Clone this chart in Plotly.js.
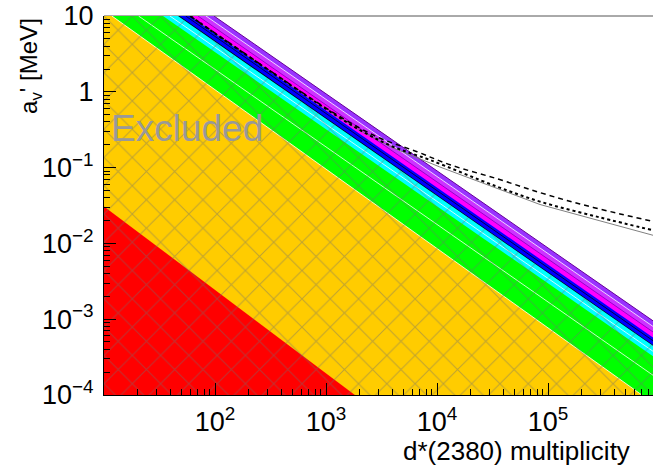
<!DOCTYPE html>
<html>
<head>
<meta charset="utf-8">
<script src="https://cdn.plot.ly/plotly-3.0.1.min.js"></script>
<style>
html,body{margin:0;padding:0;overflow:hidden;background:#fff;}
#chart{width:653px;height:468px;}
</style>
</head>
<body>
<div id="chart"></div>
<script>
// ---- axis frame (data units) ----
const X_MIN = 10, X_MAX = 883000;
const Y_MIN = 1e-4, Y_MAX = 10;

// ---- band boundaries: [x at entry, x at exit], [y at entry, y at exit] ----
const redX = [10, 1820];            const redY = [0.0307, 1e-4];
const orangeX = [11.8, 700000];     const orangeY = [10, 1e-4];
const greenMidX = [20.5, 883000];   const greenMidY = [10, 1.82e-4];
const greenTopX = [34.0, 883000];   const greenTopY = [10, 3.24e-4];
const cyanMidX = [39.3, 883000];    const cyanMidY = [10, 3.77e-4];
const cyanTopX = [46.5, 883000];    const cyanTopY = [10, 4.46e-4];
const blackTopX = [47.8, 883000];   const blackTopY = [10, 4.57e-4];
const blueMidX = [54.5, 883000];    const blueMidY = [10, 5.2e-4];
const blueTopX = [59.6, 883000];    const blueTopY = [10, 5.73e-4];
const magentaTopX = [70.3, 883000]; const magentaTopY = [10, 6.78e-4];
const purpleTopX = [83.0, 883000];  const purpleTopY = [10, 8.02e-4];
const violetTopX = [98.0, 883000];  const violetTopY = [10, 9.51e-4];

// ---- limit curves ----
const dashedX = [59.6, 100, 316, 1000, 2000, 3160, 6610, 13100, 34700, 84700, 194000, 446000, 883000];
const dashedY = [10, 5.96, 1.88, 0.61, 0.335, 0.24, 0.162, 0.109, 0.0713, 0.0468, 0.0331, 0.0245, 0.0195];
const dottedX = [60, 100, 316, 1000, 2000, 3980, 8650, 34700, 84700, 294000, 883000];
const dottedY = [10, 5.89, 1.86, 0.596, 0.316, 0.19, 0.126, 0.0561, 0.0356, 0.022, 0.0149];
const grayX = [60, 100, 316, 1000, 2000, 3980, 10600, 84700, 883000];
const grayY = [10, 5.89, 1.86, 0.59, 0.31, 0.183, 0.102, 0.0326, 0.0128];

// ---- ticks ----
const xTickVals = [100, 1000, 10000, 100000];
const xTickText = ['10<sup>2</sup>', '10<sup>3</sup>', '10<sup>4</sup>', '10<sup>5</sup>'];
const yTickVals = [1e-4, 1e-3, 1e-2, 1e-1, 1, 10];
const yTickText = ['10<sup>−4</sup>', '10<sup>−3</sup>', '10<sup>−2</sup>', '10<sup>−1</sup>', '1', '10'];

function minorTicks(lo, hi) {
  const out = [];
  for (let e = lo; e < hi; e++) for (let m = 2; m <= 9; m++) out.push(m * Math.pow(10, e));
  return out;
}

// region below a boundary, closed along the frame
function below(bx, by) {
  const xs = [], ys = [];
  if (by[0] >= Y_MAX) { xs.push(X_MIN, bx[0]); ys.push(Y_MAX, Y_MAX); }
  else { xs.push(X_MIN, bx[0]); ys.push(by[0], by[0]); }
  xs.push(bx[1]); ys.push(by[1]);
  if (bx[1] < X_MAX) { xs.push(X_MIN); ys.push(Y_MIN); }
  else { xs.push(X_MAX, X_MIN); ys.push(Y_MIN, Y_MIN); }
  return {x: xs, y: ys};
}

function band(bx, by, color) {
  const p = below(bx, by);
  return {x: p.x, y: p.y, type: 'scatter', mode: 'lines', fill: 'toself',
    fillcolor: color, line: {width: 0}, hoverinfo: 'skip', showlegend: false};
}
function edge(bx, by, color, w) {
  return {x: bx, y: by, type: 'scatter', mode: 'lines',
    line: {color: color, width: w}, hoverinfo: 'skip', showlegend: false};
}

const traces = [
  band(violetTopX, violetTopY, '#9933ff'),
  band(purpleTopX, purpleTopY, '#cc33ff'),
  band(magentaTopX, magentaTopY, '#ff00ff'),
  band(blueTopX, blueTopY, '#0000ff'),
  band(blackTopX, blackTopY, '#000000'),
  band(cyanTopX, cyanTopY, '#00ffff'),
  band(greenTopX, greenTopY, '#00ff00'),
  band(orangeX, orangeY, '#ffcc00'),
  band(redX, redY, '#ff0000'),
  edge(violetTopX, violetTopY, '#660099', 1),
  edge(purpleTopX, purpleTopY, '#ffffff', 0.8),
  edge(magentaTopX, magentaTopY, '#9900cc', 1),
  edge(blueMidX, blueMidY, '#000033', 0.9),
  edge(cyanMidX, cyanMidY, 'rgba(220,255,255,0.9)', 1),
  edge(greenMidX, greenMidY, 'rgba(220,255,220,0.9)', 1),
  edge(orangeX, orangeY, 'rgba(255,255,220,0.9)', 1),
];

// hatched "excluded" overlay
const hatch = below(cyanTopX, cyanTopY);
traces.push({x: hatch.x, y: hatch.y, type: 'scatter', mode: 'lines', fill: 'toself',
  fillcolor: 'rgba(0,0,0,0)', line: {width: 0}, hoverinfo: 'skip', showlegend: false,
  fillpattern: {shape: 'x', size: 20, solidity: 0.1, fgcolor: 'rgba(110,110,110,0.9)',
    bgcolor: 'rgba(0,0,0,0)', fillmode: 'overlay'}});

traces.push({x: grayX, y: grayY, type: 'scatter', mode: 'lines',
  line: {color: '#808080', width: 1}, hoverinfo: 'skip', showlegend: false});
traces.push({x: dottedX, y: dottedY, type: 'scatter', mode: 'lines', line: {color: '#000', width: 2, dash: 'dot', shape: 'spline'},
  hoverinfo: 'skip', showlegend: false});
traces.push({x: dashedX, y: dashedY, type: 'scatter', mode: 'lines', line: {color: '#000', width: 1.5, dash: '5px,4px', shape: 'spline'},
  hoverinfo: 'skip', showlegend: false});

const FONT = 'Liberation Sans, Arial, sans-serif';
const layout = {
  width: 653, height: 468,
  margin: {l: 104, r: 0, t: 16, b: 73},
  paper_bgcolor: '#fff', plot_bgcolor: '#fff',
  font: {family: FONT, color: '#000', size: 26},
  showlegend: false,
  xaxis: {type: 'log', range: [Math.log10(X_MIN), Math.log10(X_MAX)], showgrid: false, zeroline: false,
    showline: true, linecolor: '#000', linewidth: 1, mirror: false,
    ticks: 'inside', ticklen: 12, tickcolor: '#000', tickwidth: 1,
    tickmode: 'array', tickvals: xTickVals, ticktext: xTickText,
    tickfont: {size: 27, family: FONT}, ticklabelstandoff: 3, ticklabeloverflow: 'allow',
    minor: {tickmode: 'array', tickvals: minorTicks(1, 6), ticks: 'inside', ticklen: 6, tickcolor: '#000', showgrid: false},
    automargin: false, layer: 'above traces'},
  yaxis: {type: 'log', range: [Math.log10(Y_MIN) - 0.0005, Math.log10(Y_MAX) + 0.0005], showgrid: false, zeroline: false,
    showline: true, linecolor: '#000', linewidth: 1, mirror: false,
    ticks: 'inside', ticklen: 12, tickcolor: '#000', tickwidth: 1,
    tickmode: 'array', tickvals: yTickVals, ticktext: yTickText,
    tickfont: {size: 27, family: FONT}, ticklabelstandoff: 4, ticklabeloverflow: 'allow',
    minor: {tickmode: 'array', tickvals: minorTicks(-4, 1), ticks: 'inside', ticklen: 6, tickcolor: '#000', showgrid: false},
    automargin: false, layer: 'above traces'},
  shapes: [{type: 'line', xref: 'paper', yref: 'paper', x0: 0, x1: 1, y0: 1, y1: 1,
    line: {color: '#555', width: 1}, layer: 'below'}],
  annotations: [
    {text: 'Excluded', xref: 'paper', yref: 'paper', x: 0.009, y: 0.704, xanchor: 'left', yanchor: 'middle',
      showarrow: false, font: {family: FONT, size: 37, color: '#999999'}},
    {text: 'd*(2380) multiplicity', xref: 'paper', yref: 'paper', x: 0.962, y: -0.148, xanchor: 'right', yanchor: 'middle',
      showarrow: false, font: {family: FONT, size: 26, color: '#000'}},
    {text: "a<sub>v</sub>' [MeV]", xref: 'paper', yref: 'paper', x: -0.135, y: 1.0, xanchor: 'center', yanchor: 'top',
      textangle: -90, showarrow: false, font: {family: FONT, size: 24, color: '#000'}}
  ]
};

Plotly.newPlot('chart', traces, layout, {staticPlot: true, displayModeBar: false});
</script>
</body>
</html>
